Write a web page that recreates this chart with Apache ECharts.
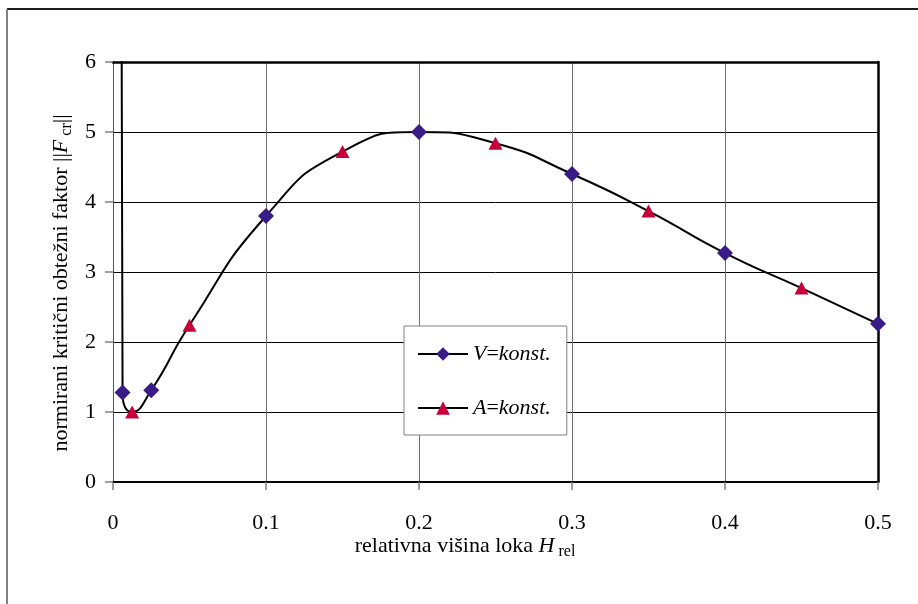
<!DOCTYPE html>
<html>
<head>
<meta charset="utf-8">
<title>normirani kritični obtežni faktor</title>
<script src="https://cdn.jsdelivr.net/npm/echarts@6/dist/echarts.min.js"></script>
<style>
  html, body { margin: 0; padding: 0; background: #fff; }
  #chart { width: 918px; height: 604px; }
</style>
</head>
<body>
<div id="chart"></div>
<script>
// Relative arch height H_rel against the normalised critical load factor ||F_cr||
const vHeights = [0.00625, 0.025, 0.1, 0.2, 0.3, 0.4, 0.5];
const vFactors = [1.28, 1.31, 3.80, 5.00, 4.40, 3.27, 2.26];

const aHeights = [0.0125, 0.05, 0.15, 0.25, 0.35, 0.45];
const aFactors = [1.00, 2.24, 4.72, 4.84, 3.87, 2.77];

// steep rise of the curve for very flat arches (leaves the plot at the top)
const curveStartHeights = [0.0052];
const curveStartFactors = [10];

const xTickLabels = ['0', '0.1', '0.2', '0.3', '0.4', '0.5'];
const yTickLabels = ['0', '1', '2', '3', '4', '5', '6'];

const seriesNames = ['V=konst.', 'A=konst.'];

const FONT = 'Liberation Serif';

const zip = (xs, ys) => xs.map((x, i) => [x, ys[i]]);
const vPoints = zip(vHeights, vFactors);
const aPoints = zip(aHeights, aFactors);
const curvePoints = zip(curveStartHeights, curveStartFactors)
  .concat(vPoints, aPoints)
  .sort((p, q) => p[0] - q[0]);

const chart = echarts.init(document.getElementById('chart'), null, { renderer: 'canvas' });

const richParts = {
  n: { fontFamily: FONT, fontSize: 22, lineHeight: 28, color: '#000' },
  i: { fontFamily: FONT, fontSize: 22, lineHeight: 28, fontStyle: 'italic', color: '#000' },
  s: { fontFamily: FONT, fontSize: 16, lineHeight: 18, verticalAlign: 'bottom', color: '#000' }
};

const option = {
  animation: false,
  backgroundColor: '#fff',
  textStyle: { fontFamily: FONT },
  grid: { left: 113, right: 40, top: 62, bottom: 122, containLabel: false },
  xAxis: [
    {
      type: 'value', min: 0, max: 0.5, interval: 0.1, position: 'bottom',
      axisLine: { show: true, onZero: false, lineStyle: { color: '#000', width: 2 } },
      axisTick: { show: true, inside: false, length: 8, lineStyle: { color: '#808080', width: 1.5 } },
      axisLabel: {
        margin: 30, color: '#000', fontFamily: FONT, fontSize: 22,
        formatter: (v, i) => xTickLabels[i]
      },
      splitLine: { show: true, lineStyle: { color: '#6e6e6e', width: 1 } }
    },
    {
      // plot frame, top edge
      type: 'value', min: 0, max: 0.5, position: 'top',
      axisLine: { show: true, onZero: false, lineStyle: { color: '#000', width: 2.5 } },
      axisTick: { show: false }, axisLabel: { show: false }, splitLine: { show: false }
    }
  ],
  yAxis: [
    {
      type: 'value', min: 0, max: 6, interval: 1, position: 'left',
      axisLine: { show: true, onZero: false, lineStyle: { color: '#555', width: 1 } },
      axisTick: { show: true, inside: false, length: 8, lineStyle: { color: '#808080', width: 1.5 } },
      axisLabel: {
        margin: 17, color: '#000', fontFamily: FONT, fontSize: 22,
        formatter: (v, i) => yTickLabels[i]
      },
      splitLine: { show: true, lineStyle: { color: '#000', width: 1 } }
    },
    {
      // plot frame, right edge
      type: 'value', min: 0, max: 6, position: 'right',
      axisLine: { show: true, onZero: false, lineStyle: { color: '#000', width: 2.5 } },
      axisTick: { show: false }, axisLabel: { show: false }, splitLine: { show: false }
    }
  ],
  legend: {
    left: 404, top: 326,
    orient: 'vertical',
    padding: [14, 16, 13, 13],
    itemGap: 26,
    itemWidth: 50, itemHeight: 17,
    backgroundColor: '#fff',
    borderColor: '#808080', borderWidth: 1, borderRadius: 0,
    selectedMode: false,
    data: seriesNames.map(name => ({
      name: name,
      lineStyle: { color: '#000', width: 2, opacity: 1 }
    })),
    formatter: name => '{i|' + name.charAt(0) + '}{n|=}{i|' + name.slice(2) + '}',
    textStyle: { rich: richParts, fontFamily: FONT, fontSize: 22, lineHeight: 28, color: '#000' }
  },
  series: [
    {
      name: 'curve', type: 'line', data: curvePoints,
      smooth: 0.55, showSymbol: false, symbol: 'none',
      lineStyle: { color: '#000', width: 2 },
      silent: true, z: 2, clip: true
    },
    {
      name: seriesNames[0], type: 'line', data: vPoints,
      symbol: 'diamond', symbolSize: 16, showAllSymbol: true,
      itemStyle: { color: '#3a1c88' },
      lineStyle: { color: '#000', width: 0, opacity: 0 },
      emphasis: { disabled: true }, z: 4
    },
    {
      name: seriesNames[1], type: 'line', data: aPoints,
      symbol: 'triangle', symbolSize: [14, 13], showAllSymbol: true,
      itemStyle: { color: '#c8003a' },
      lineStyle: { color: '#000', width: 0, opacity: 0 },
      emphasis: { disabled: true }, z: 4
    }
  ],
  graphic: [
    {
      type: 'line', silent: true, z: 0,
      shape: { x1: 7, y1: 9, x2: 918, y2: 9 },
      style: { stroke: '#1e1e1e', lineWidth: 2 }
    },
    {
      type: 'line', silent: true, z: 0,
      shape: { x1: 7, y1: 9, x2: 7, y2: 604 },
      style: { stroke: '#808080', lineWidth: 2 }
    },
    {
      type: 'text', silent: true, x: 465, y: 546,
      style: {
        text: '{n|relativna višina loka }{i|H}{s| rel}',
        rich: richParts, align: 'center', verticalAlign: 'middle'
      }
    },
    {
      type: 'text', silent: true, x: 61, y: 283, rotation: Math.PI / 2,
      style: {
        text: '{n|normirani kritični obtežni faktor ||}{i|F}{s| cr}{n|||}',
        rich: richParts, align: 'center', verticalAlign: 'middle'
      }
    }
  ]
};

chart.setOption(option);
</script>
</body>
</html>
